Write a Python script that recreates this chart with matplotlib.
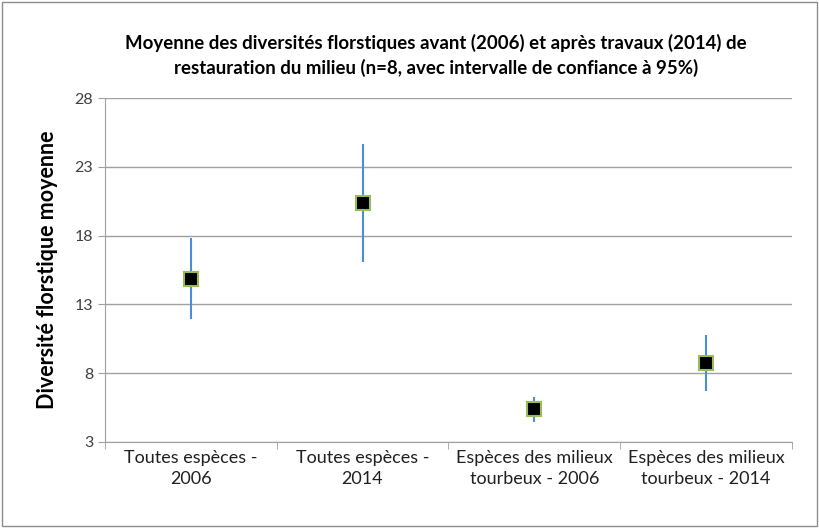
import numpy as np
import matplotlib.pyplot as plt
from matplotlib.patches import Rectangle

plt.rcParams['font.family'] = ['Lato', 'DejaVu Sans']

categories = ["Toutes espèces -\n2006", "Toutes espèces -\n2014",
              "Espèces des milieux\ntourbeux - 2006", "Espèces des milieux\ntourbeux - 2014"]
means = [14.85, 20.4, 5.4, 8.75]
ci_low = [11.95, 16.1, 4.45, 6.7]
ci_high = [17.85, 24.7, 6.25, 10.8]

fig = plt.figure(figsize=(8.19, 5.28), dpi=100)
ax = fig.add_axes([0.128, 0.163, 0.839, 0.651])

x = np.arange(len(categories))
ax.vlines(x, ci_low, ci_high, color="#4A8EDB", linewidth=1.5, zorder=3)
ax.plot(x, means, linestyle="none", marker="s", markersize=10,
        markerfacecolor="black", markeredgecolor="#9BBB59", markeredgewidth=1.5, zorder=4)

ax.set_xlim(-0.5, 3.5)
ax.set_ylim(3, 28)
ax.set_yticks([3, 8, 13, 18, 23, 28])
ax.yaxis.grid(True, color="#A0A0A0", linewidth=1)
ax.set_axisbelow(True)

ax.set_xticks(x)
ax.set_xticklabels(categories, fontsize=13, linespacing=1.35)
ax.set_xticks(np.arange(-0.5, 4, 1), minor=True)
ax.tick_params(axis='x', which='major', length=0, pad=6)
ax.tick_params(axis='x', which='minor', length=5, color="#A0A0A0", direction='out')
ax.tick_params(axis='y', length=5, color="#A0A0A0", labelsize=11.5, labelcolor="#404040")
ax.tick_params(axis='x', labelcolor="#202020")

for s in ["top", "right"]:
    ax.spines[s].set_visible(False)
for s in ["left", "bottom"]:
    ax.spines[s].set_color("#A0A0A0")

ax.set_ylabel("Diversité florstique moyenne", fontsize=15.5, fontweight="bold", labelpad=12)
fig.text(0.532, 0.895, "Moyenne des diversités florstiques avant (2006) et après travaux (2014) de\n"
         "restauration du milieu (n=8, avec intervalle de confiance à 95%)",
         ha="center", va="center", fontsize=13.4, fontweight="bold", linespacing=1.4)

fig.patches.append(Rectangle((0.003, 0.004), 0.994, 0.992, transform=fig.transFigure,
                             fill=False, edgecolor="#8C8C8C", linewidth=1))

plt.savefig("out.png", dpi=100)
